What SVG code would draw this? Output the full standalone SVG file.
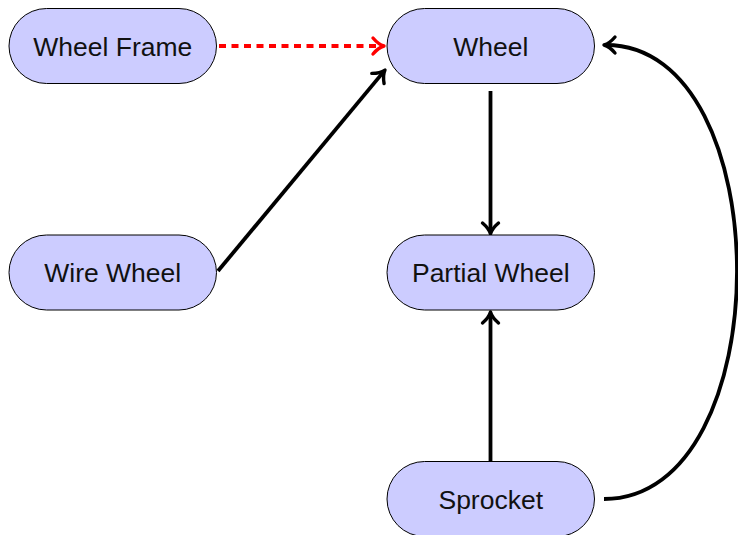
<svg xmlns="http://www.w3.org/2000/svg" width="738" height="535" viewBox="0 0 738 535">
  <defs>
    <style>
      .node rect { fill: #ccccff; stroke: #000; stroke-width: 1; }
      .node text { font-family: "Liberation Sans", Arial, sans-serif; font-size: 26.5px; fill: #111; text-anchor: middle; }
      .edge { fill: none; stroke: #000; stroke-width: 3.8; }
      .dep { fill: none; stroke: #ff0000; stroke-width: 3.8; stroke-dasharray: 7 5.5; }
    </style>
    <marker id="tip" markerUnits="userSpaceOnUse" markerWidth="20" markerHeight="20" refX="0" refY="0" viewBox="-12 -10 16 20" orient="auto" overflow="visible">
      <path d="M-9,-8 Q-3.5,-1.5 2,0 Q-3.5,1.5 -9,8" fill="none" stroke="#000" stroke-width="3.4" stroke-linecap="round" stroke-linejoin="round"/>
    </marker>
    <marker id="tipRed" markerUnits="userSpaceOnUse" markerWidth="20" markerHeight="20" refX="0" refY="0" viewBox="-12 -10 16 20" orient="auto" overflow="visible">
      <path d="M-9,-8 Q-3.5,-1.5 2,0 Q-3.5,1.5 -9,8" fill="none" stroke="#ff0000" stroke-width="3.4" stroke-linecap="round" stroke-linejoin="round"/>
    </marker>
  </defs>

  <g id="connectors">
    <path class="dep" d="M219,46 L382,46" marker-end="url(#tipRed)"/>
    <path class="edge" d="M218,271 L383.7,71.6" marker-end="url(#tip)"/>
    <path class="edge" d="M490.5,91 L490.5,232" marker-end="url(#tip)"/>
    <path class="edge" d="M490.5,461 L490.5,314" marker-end="url(#tip)"/>
    <path class="edge" d="M604,499 C781,499 781,45 606,45" marker-end="url(#tip)"/>
  </g>

  <g id="wheel-frame" class="node">
    <rect x="9" y="8.5" width="207.5" height="75" rx="37.5" ry="37.5"/>
    <text x="112.75" y="55.5">Wheel Frame</text>
  </g>
  <g id="wheel" class="node">
    <rect x="387" y="8.5" width="207.5" height="75" rx="37.5" ry="37.5"/>
    <text x="490.75" y="55.5">Wheel</text>
  </g>
  <g id="wire-wheel" class="node">
    <rect x="9" y="235" width="207.5" height="75" rx="37.5" ry="37.5"/>
    <text x="112.75" y="282">Wire Wheel</text>
  </g>
  <g id="partial-wheel" class="node">
    <rect x="387" y="235" width="207.5" height="75" rx="37.5" ry="37.5"/>
    <text x="490.75" y="282">Partial Wheel</text>
  </g>
  <g id="sprocket" class="node">
    <rect x="387" y="461.5" width="207.5" height="75" rx="37.5" ry="37.5"/>
    <text x="490.75" y="508.5">Sprocket</text>
  </g>
</svg>
